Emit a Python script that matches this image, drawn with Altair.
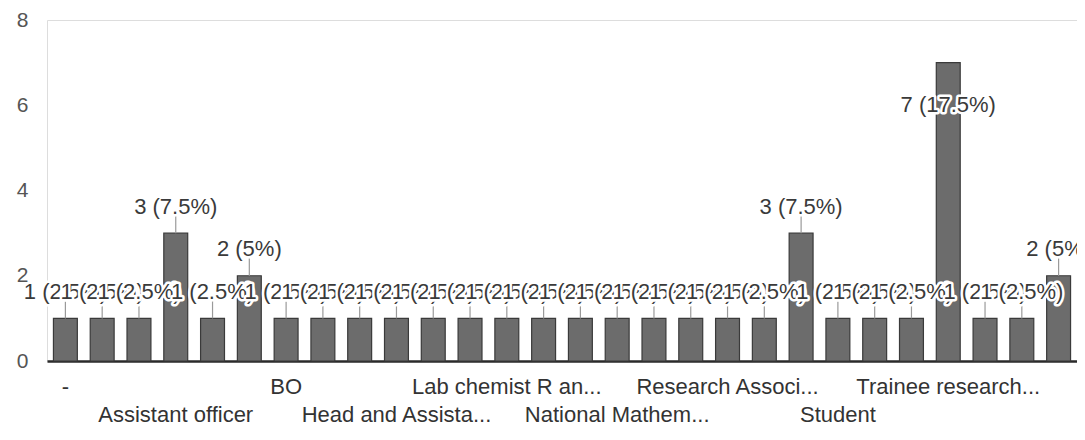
import altair as alt
import pandas as pd

# ---- data ----
counts = [1, 1, 1, 3, 1, 2, 1, 1, 1, 1, 1, 1, 1, 1,
          1, 1, 1, 1, 1, 1, 3, 1, 1, 1, 7, 1, 1, 2]
# only every third category name is printed on the axis (others hidden)
axis_labels = ["-", "", "", "Assistant officer", "", "", "BO", "", "",
               "Head and Assista...", "", "", "Lab chemist R an...", "", "",
               "National Mathem...", "", "", "Research Associ...", "", "",
               "Student", "", "", "Trainee research...", "", "", ""]
total = 40
y_ticks = [0, 2, 4, 6, 8]


def pct_text(c):
    p = c / total * 100
    s = f"{p:.1f}".rstrip("0").rstrip(".")
    return f"{c} ({s}%)"


df = pd.DataFrame({
    "idx": list(range(len(counts))),
    "count": counts,
    "label": [pct_text(c) for c in counts],
})

FONT = "Liberation Sans"
FS = 22
W, H = 1030, 341

# labels alternate between two rows on the axis
lab_js = "[" + ",".join("'" + s.replace("'", "\\'") + "'" for s in axis_labels) + "]"
label_expr = (f"(datum.value % 6 == 3) ? ['', {lab_js}[datum.value]] "
              f": {lab_js}[datum.value]")

x = alt.X("idx:O",
          scale=alt.Scale(paddingInner=0.35, paddingOuter=0.175),
          axis=alt.Axis(title=None, labelExpr=label_expr, labelAngle=0,
                        labelFont=FONT, labelFontSize=FS, labelColor="#333333",
                        labelPadding=15, labelLineHeight=28, labelBaseline="top",
                        labelLimit=0, ticks=False, domainColor="#2a2a2a",
                        domainWidth=2.5, labelOverlap=False))
y = alt.Y("count:Q",
          scale=alt.Scale(domain=[0, 8], nice=False),
          axis=alt.Axis(title=None, values=y_ticks, grid=False, domain=False,
                        ticks=False, labelFont=FONT, labelFontSize=21,
                        labelColor="#555555", labelPadding=19))

base = alt.Chart(df).encode(x=x)

bars = base.mark_bar(color="#6c6c6c", stroke="#3a3a3a", strokeWidth=1.2).encode(y=y)

lab_pos = base.transform_calculate(
    pos="datum.count > 6 ? datum.count - 1 : datum.count + 0.62",
    lead_top="datum.count + 0.42",
)

leaders = lab_pos.transform_filter("datum.count <= 6").mark_rule(
    color="#9a9a9a", strokeWidth=1.2
).encode(y=alt.Y("count:Q"), y2="lead_top:Q")

layers = [bars, leaders]
for i in range(len(counts)):
    sub = lab_pos.transform_filter(f"datum.idx == {i}")
    layers.append(sub.mark_text(font=FONT, fontSize=FS, baseline="middle",
                                stroke="white", strokeWidth=5, strokeJoin="round",
                                color="white").encode(y=alt.Y("pos:Q"), text="label:N"))
    layers.append(sub.mark_text(font=FONT, fontSize=FS, baseline="middle",
                                color="#3a3a3a").encode(y=alt.Y("pos:Q"), text="label:N"))

chart = alt.layer(*layers).properties(
    width=W, height=H,
    autosize=alt.AutoSizeParams(type="none"),
    padding={"left": 39, "top": 12, "right": 0, "bottom": 70},
).configure_view(stroke=None).configure(background="white")

chart.save("out.html", embed_options={"renderer": "svg", "actions": False})
